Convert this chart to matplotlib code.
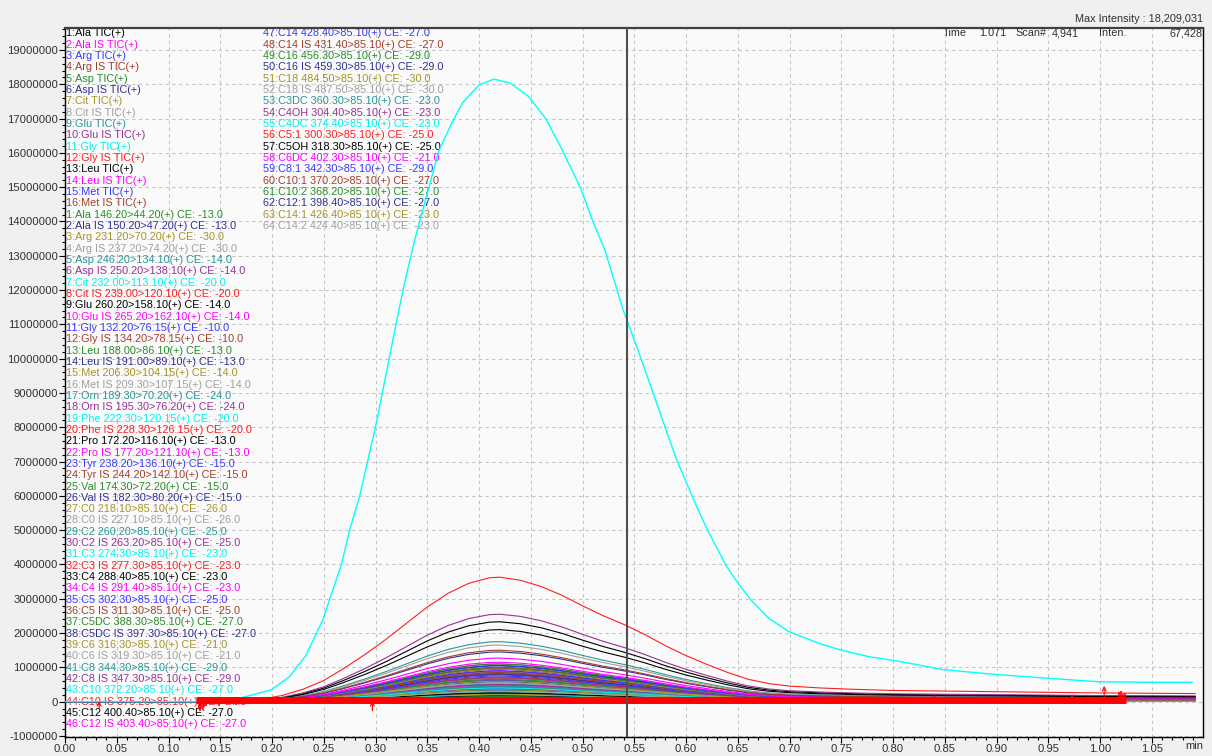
import numpy as np
import matplotlib
matplotlib.use('Agg')
import matplotlib.pyplot as plt
from matplotlib.ticker import MultipleLocator, FuncFormatter

plt.rcParams['font.family'] = ['Liberation Sans', 'DejaVu Sans']

# channel colour cycle (12 colours, repeats over the 80 channels)
palette = ['#000000', '#FF00FF', '#3838FF', '#A0402A', '#2A8C2A', '#303092',
           '#A89228', '#A0A0A0', '#2C9696', '#963296', '#00F0F0', '#FF1E1E']

tic_names = ['1:Ala TIC(+)', '2:Ala IS TIC(+)', '3:Arg TIC(+)', '4:Arg IS TIC(+)',
             '5:Asp TIC(+)', '6:Asp IS TIC(+)', '7:Cit TIC(+)', '8:Cit IS TIC(+)',
             '9:Glu TIC(+)', '10:Glu IS TIC(+)', '11:Gly TIC(+)', '12:Gly IS TIC(+)',
             '13:Leu TIC(+)', '14:Leu IS TIC(+)', '15:Met TIC(+)', '16:Met IS TIC(+)']

mrm_names = [
    '1:Ala 146.20>44.20(+) CE: -13.0', '2:Ala IS 150.20>47.20(+) CE: -13.0',
    '3:Arg 231.20>70.20(+) CE: -30.0', '4:Arg IS 237.20>74.20(+) CE: -30.0',
    '5:Asp 246.20>134.10(+) CE: -14.0', '6:Asp IS 250.20>138.10(+) CE: -14.0',
    '7:Cit 232.00>113.10(+) CE: -20.0', '8:Cit IS 239.00>120.10(+) CE: -20.0',
    '9:Glu 260.20>158.10(+) CE: -14.0', '10:Glu IS 265.20>162.10(+) CE: -14.0',
    '11:Gly 132.20>76.15(+) CE: -10.0', '12:Gly IS 134.20>78.15(+) CE: -10.0',
    '13:Leu 188.00>86.10(+) CE: -13.0', '14:Leu IS 191.00>89.10(+) CE: -13.0',
    '15:Met 206.30>104.15(+) CE: -14.0', '16:Met IS 209.30>107.15(+) CE: -14.0',
    '17:Orn 189.30>70.20(+) CE: -24.0', '18:Orn IS 195.30>76.20(+) CE: -24.0',
    '19:Phe 222.30>120.15(+) CE: -20.0', '20:Phe IS 228.30>126.15(+) CE: -20.0',
    '21:Pro 172.20>116.10(+) CE: -13.0', '22:Pro IS 177.20>121.10(+) CE: -13.0',
    '23:Tyr 238.20>136.10(+) CE: -15.0', '24:Tyr IS 244.20>142.10(+) CE: -15.0',
    '25:Val 174.30>72.20(+) CE: -15.0', '26:Val IS 182.30>80.20(+) CE: -15.0',
    '27:C0 218.10>85.10(+) CE: -26.0', '28:C0 IS 227.10>85.10(+) CE: -26.0',
    '29:C2 260.20>85.10(+) CE: -25.0', '30:C2 IS 263.20>85.10(+) CE: -25.0',
    '31:C3 274.30>85.10(+) CE: -23.0', '32:C3 IS 277.30>85.10(+) CE: -23.0',
    '33:C4 288.40>85.10(+) CE: -23.0', '34:C4 IS 291.40>85.10(+) CE: -23.0',
    '35:C5 302.30>85.10(+) CE: -25.0', '36:C5 IS 311.30>85.10(+) CE: -25.0',
    '37:C5DC 388.30>85.10(+) CE: -27.0', '38:C5DC IS 397.30>85.10(+) CE: -27.0',
    '39:C6 316.30>85.10(+) CE: -21.0', '40:C6 IS 319.30>85.10(+) CE: -21.0',
    '41:C8 344.30>85.10(+) CE: -29.0', '42:C8 IS 347.30>85.10(+) CE: -29.0',
    '43:C10 372.20>85.10(+) CE: -27.0', '44:C10 IS 375.20>85.10(+) CE: -27.0',
    '45:C12 400.40>85.10(+) CE: -27.0', '46:C12 IS 403.40>85.10(+) CE: -27.0',
    '47:C14 428.40>85.10(+) CE: -27.0', '48:C14 IS 431.40>85.10(+) CE: -27.0',
    '49:C16 456.30>85.10(+) CE: -29.0', '50:C16 IS 459.30>85.10(+) CE: -29.0',
    '51:C18 484.50>85.10(+) CE: -30.0', '52:C18 IS 487.50>85.10(+) CE: -30.0',
    '53:C3DC 360.30>85.10(+) CE: -23.0', '54:C4OH 304.40>85.10(+) CE: -23.0',
    '55:C4DC 374.40>85.10(+) CE: -23.0', '56:C5:1 300.30>85.10(+) CE: -25.0',
    '57:C5OH 318.30>85.10(+) CE: -25.0', '58:C6DC 402.30>85.10(+) CE: -21.0',
    '59:C8:1 342.30>85.10(+) CE: -29.0', '60:C10:1 370.20>85.10(+) CE: -27.0',
    '61:C10:2 368.20>85.10(+) CE: -27.0', '62:C12:1 398.40>85.10(+) CE: -27.0',
    '63:C14:1 426.40>85.10(+) CE: -23.0', '64:C14:2 424.40>85.10(+) CE: -23.0',
]

# apex heights of each channel (x 1e6 counts), estimated from the plot;
# 11:Gly TIC is drawn from its own points below
tic_peaks = [2.10, 1.15, 1.05, 1.50, 1.00, 1.45, 0.95, 1.65,
             1.75, 2.55, None, 3.63, 2.33, 1.27, 0.90, 0.85]
mrm_peaks = [1.10, 0.95, 0.60, 0.55, 0.85, 0.70, 0.40, 1.00,
             1.05, 0.90, 0.75, 0.98, 0.65, 0.80, 0.35, 0.30,
             0.45, 0.50, 0.55, 0.85, 0.95, 1.10, 0.62, 0.72,
             0.42, 0.58, 0.88, 0.66, 0.52, 0.78, 0.30, 0.68,
             0.25, 0.48, 0.38, 0.82, 0.28, 0.35, 0.22, 0.40,
             0.32, 0.45, 0.20, 0.62, 0.18, 0.36, 0.26, 0.44,
             0.15, 0.30, 0.12, 0.24, 0.16, 0.20, 0.14, 0.56,
             0.10, 0.22, 0.18, 0.34, 0.12, 0.28, 0.10, 0.16]

# shared elution profile (relative to apex), read from the red 12:Gly IS trace
profile_t = [0.0, 0.150, 0.170, 0.190, 0.210, 0.230, 0.250, 0.270, 0.290,
             0.310, 0.330, 0.350, 0.370, 0.390, 0.410, 0.420, 0.440, 0.460,
             0.480, 0.500, 0.520, 0.540, 0.560, 0.580, 0.600, 0.620, 0.640,
             0.660, 0.680, 0.700, 0.730, 0.760, 0.800, 0.900, 1.000, 1.092]
profile_rel = [0.0, 0.0, 0.008, 0.02, 0.05, 0.10, 0.17, 0.27, 0.38,
               0.50, 0.63, 0.76, 0.87, 0.95, 0.995, 1.0, 0.975, 0.925,
               0.855, 0.77, 0.69, 0.62, 0.54, 0.45, 0.37, 0.30, 0.235,
               0.18, 0.145, 0.125, 0.11, 0.10, 0.09, 0.08, 0.07, 0.065]

# 11:Gly TIC(+) (cyan), time [min] / intensity [x 1e6]
gly_t = [0.0, 0.160, 0.1686, 0.199, 0.217, 0.233, 0.249, 0.2588, 0.267, 0.275,
         0.2846, 0.2927, 0.3008, 0.3104, 0.320, 0.328, 0.3378, 0.3614, 0.3742,
         0.3839, 0.400, 0.4145, 0.4306, 0.448, 0.4644, 0.4805, 0.4982, 0.5095,
         0.5216, 0.5393, 0.557, 0.5683, 0.5796, 0.591, 0.6006, 0.6103, 0.6215,
         0.6393, 0.648, 0.6625, 0.680, 0.6995, 0.7285, 0.749, 0.777, 0.799,
         0.825, 0.847, 0.896, 0.951, 0.999, 1.047, 1.089]
gly_i = [0.0, 0.0, 0.10, 0.34, 0.73, 1.36, 2.38, 3.26, 3.99, 5.00,
         5.98, 7.05, 8.12, 9.57, 11.03, 12.20, 13.46, 16.08, 16.90,
         17.45, 17.98, 18.15, 18.03, 17.64, 17.00, 16.08, 14.97, 14.04,
         13.17, 11.42, 9.96, 8.99, 8.02, 7.05, 6.37, 5.69, 4.96,
         3.94, 3.55, 2.97, 2.43, 2.04, 1.70, 1.51, 1.31, 1.21,
         1.07, 0.94, 0.80, 0.68, 0.58, 0.565, 0.565]

# noisy red channel lying on the baseline
band_t = [0.127, 1.025]
band_i = [0.04, 0.04]
spike_t = [0.129, 0.130, 0.131, 0.133, 0.134, 0.136, 0.149, 0.165,
           1.018, 1.020, 1.022, 1.024]
spike_lo = [-0.22, -0.28, -0.18, -0.25, -0.15, -0.12, -0.12, -0.10,
            0.04, 0.04, 0.04, 0.04]
spike_hi = [0.04, 0.04, 0.04, 0.04, 0.04, 0.04, 0.04, 0.04,
            0.28, 0.32, 0.22, 0.26]

# peak detection marks (arrow tail / head, x 1e6)
mark_t = [0.033, 0.297, 0.84, 0.973, 1.004]
mark_lo = [-0.22, -0.26, 0.02, 0.02, 0.10]
mark_hi = [0.02, 0.02, 0.20, 0.22, 0.46]

cursor_t = 0.543

fig = plt.figure(figsize=(12.12, 7.56), dpi=100, facecolor='#F0F0F0')
ax = fig.add_axes([65 / 1212, 19 / 756, 1138 / 1212, 709 / 756])
ax.set_facecolor('#FAFAFA')

names = tic_names + mrm_names
peaks = tic_peaks + mrm_peaks
prof_t = np.array(profile_t)
prof_r = np.array(profile_rel)

# draw channels, last ones first so the low numbered end up on top
for i in range(len(names) - 1, -1, -1):
    if peaks[i] is None:
        continue
    ax.plot(prof_t, prof_r * peaks[i] * 1e6, color=palette[i % 12], lw=0.8, zorder=2)

ax.plot(gly_t, np.array(gly_i) * 1e6, color='#00FFFF', lw=1.0, zorder=3)
ax.plot(band_t, np.array(band_i) * 1e6, color='#FF0000', lw=5, zorder=3.5,
        solid_capstyle='butt')
ax.vlines(spike_t, np.array(spike_lo) * 1e6, np.array(spike_hi) * 1e6,
          color='#FF0000', lw=1.2, zorder=3.6)
for t, lo, hi in zip(mark_t, mark_lo, mark_hi):
    ax.annotate('', xy=(t, hi * 1e6), xytext=(t, lo * 1e6), zorder=4,
                arrowprops=dict(arrowstyle='->', color='#FF0000', lw=0.8,
                                mutation_scale=7, shrinkA=0, shrinkB=0))
ax.axvline(cursor_t, color='#505050', lw=1.5, zorder=4.5)

ax.set_xlim(0, 1.0995)
ax.set_ylim(-1.03e6, 19.64e6)
ax.xaxis.set_major_locator(MultipleLocator(0.05))
ax.xaxis.set_minor_locator(MultipleLocator(0.01))
ax.yaxis.set_major_locator(MultipleLocator(1e6))
ax.yaxis.set_minor_locator(MultipleLocator(2e5))
ax.xaxis.set_major_formatter(FuncFormatter(lambda v, p: f'{v:.2f}'))
ax.yaxis.set_major_formatter(FuncFormatter(lambda v, p: f'{int(round(v))}'))
ax.tick_params(which='major', direction='out', length=4.5, width=0.8,
               labelsize=8.1, labelcolor='#303030', pad=0.6)
ax.tick_params(which='minor', direction='out', length=2.5, width=0.8)
ax.grid(True, which='major', color='#C4C4C4', lw=0.8, ls=(0, (3, 3)))
ax.set_axisbelow(True)
for side in ['left', 'bottom', 'right']:
    ax.spines[side].set_color('#000000')
    ax.spines[side].set_linewidth(1.0)
ax.spines['top'].set_color('#404040')
ax.spines['top'].set_linewidth(1.6)

ax.text(1.0, -0.0127, 'min', transform=ax.transAxes, ha='right', va='center',
        fontsize=8.1, color='#303030')

# channel list, two columns, printed under the traces
top = 1 - 5.3 / 709
step = 11.33 / 709
split = 16 + 46
for k, txt in enumerate(names[:split]):
    ax.text(0.0012, top - k * step, txt, transform=ax.transAxes, ha='left',
            va='center', fontsize=7.8, color=palette[k % 12], zorder=1.5)
for k, txt in enumerate(names[split:]):
    ax.text(0.1743, top - k * step, txt, transform=ax.transAxes, ha='left',
            va='center', fontsize=7.8, color=palette[(split + k) % 12], zorder=1.5)

# header / cursor readout
hdr = dict(va='center', fontsize=7.8, color='#303030')
fig.text(1203 / 1212, 1 - 19.3 / 756, 'Max Intensity : 18,209,031', ha='right', **hdr)
ry = 1 - 33.3 / 756
fig.text(942.7 / 1212, ry, 'Time', ha='left', **hdr)
fig.text(1006.7 / 1212, ry, '1.071', ha='right', **hdr)
fig.text(1015 / 1212, ry, 'Scan#', ha='left', **hdr)
fig.text(1079 / 1212, ry, '4,941', ha='right', **hdr)
fig.text(1099 / 1212, ry, 'Inten.', ha='left', **hdr)
fig.text(1202.7 / 1212, ry, '67,428', ha='right', **hdr)

fig.savefig('out.png', dpi=100, facecolor=fig.get_facecolor())
